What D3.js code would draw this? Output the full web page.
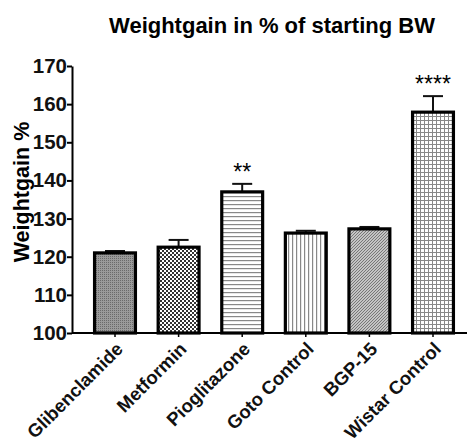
<!DOCTYPE html>
<html>
<head>
<meta charset="utf-8">
<script src="https://cdn.jsdelivr.net/npm/d3@7"></script>
<style>
  body { margin: 0; background: #fff; }
  svg { display: block; font-family: "Liberation Sans", Arial, sans-serif; font-weight: bold; }
</style>
</head>
<body>
<svg id="chart" width="467" height="443"></svg>
<script>
const groups = ['Glibenclamide', 'Metformin', 'Pioglitazone', 'Goto Control', 'BGP-15', 'Wistar Control']
const means = [121.0, 122.5, 137.0, 126.2, 127.3, 157.9]
const errUp = [121.5, 124.4, 139.1, 126.8, 127.8, 162.1]
const stars = ['', '', '**', '', '', '****']
const patterns = ['dots', 'checker', 'hlines', 'vlines', 'diag', 'grid']
const yTicks = [100, 110, 120, 130, 140, 150, 160, 170]

const svg = d3.select('#chart')
const defs = svg.append('defs')

// fill patterns, one per bar
const addPattern = (id, size, draw) => {
  const p = defs.append('pattern')
    .attr('id', id)
    .attr('patternUnits', 'userSpaceOnUse')
    .attr('width', size)
    .attr('height', size)
  draw(p)
}
addPattern('dots', 2, p => {
  p.append('rect').attr('width', 2).attr('height', 2).attr('fill', '#9a9a9a')
  p.append('rect').attr('width', 1).attr('height', 1).attr('fill', '#6a6a6a')
})
addPattern('checker', 4, p => {
  p.append('rect').attr('width', 4).attr('height', 4).attr('fill', '#fff')
  p.append('rect').attr('width', 2).attr('height', 2).attr('fill', '#333')
  p.append('rect').attr('x', 2).attr('y', 2).attr('width', 2).attr('height', 2).attr('fill', '#333')
})
addPattern('hlines', 4, p => {
  p.append('rect').attr('width', 4).attr('height', 4).attr('fill', '#fff')
  p.append('rect').attr('width', 4).attr('height', 1.2).attr('fill', '#888')
})
addPattern('vlines', 4, p => {
  p.append('rect').attr('width', 4).attr('height', 4).attr('fill', '#fff')
  p.append('rect').attr('width', 1.2).attr('height', 4).attr('fill', '#888')
})
addPattern('diag', 3, p => {
  p.append('rect').attr('width', 3).attr('height', 3).attr('fill', '#c4c4c4')
  p.append('path').attr('d', 'M0,3 L3,0 M-1,1 L1,-1 M2,4 L4,2').attr('stroke', '#777').attr('stroke-width', 1)
})
addPattern('grid', 4, p => {
  p.append('rect').attr('width', 4).attr('height', 4).attr('fill', '#fff')
  p.append('rect').attr('width', 4).attr('height', 1).attr('fill', '#888')
  p.append('rect').attr('width', 1).attr('height', 4).attr('fill', '#888')
})

const axisX = 72
const baseY = 333

const yScale = d3.scaleLinear()
  .domain([100, 170])
  .range([baseY, 66])

const xScale = d3.scaleBand()
  .domain(groups)
  .range([83.2, 464.8])
  .paddingInner(0.31)
  .paddingOuter(0.155)

const data = groups.map((g, i) => ({ group: g, mean: means[i], err: errUp[i], star: stars[i], pat: patterns[i] }))

// title
svg.append('text')
  .attr('x', 272)
  .attr('y', 33)
  .attr('text-anchor', 'middle')
  .attr('font-size', 22)
  .text('Weightgain in % of starting BW')

// y label
svg.append('text')
  .attr('transform', `translate(29, 192) rotate(-90)`)
  .attr('text-anchor', 'middle')
  .attr('font-size', 21.5)
  .text('Weightgain %')

// error bars (behind bars)
const errG = svg.append('g')
errG.selectAll('line.stem')
  .data(data)
  .enter()
  .append('line')
  .attr('x1', d => xScale(d.group) + xScale.bandwidth() / 2)
  .attr('x2', d => xScale(d.group) + xScale.bandwidth() / 2)
  .attr('y1', d => yScale(d.mean))
  .attr('y2', d => yScale(d.err))
  .attr('stroke', '#111')
  .attr('stroke-width', 2)
errG.selectAll('line.cap')
  .data(data)
  .enter()
  .append('line')
  .attr('x1', d => xScale(d.group) + xScale.bandwidth() / 2 - 10)
  .attr('x2', d => xScale(d.group) + xScale.bandwidth() / 2 + 10)
  .attr('y1', d => yScale(d.err))
  .attr('y2', d => yScale(d.err))
  .attr('stroke', '#111')
  .attr('stroke-width', 2)

// bars
svg.append('g')
  .selectAll('rect')
  .data(data)
  .enter()
  .append('rect')
  .attr('x', d => xScale(d.group) + 1.5)
  .attr('y', d => yScale(d.mean))
  .attr('width', xScale.bandwidth() - 3)
  .attr('height', d => baseY - yScale(d.mean))
  .attr('fill', d => `url(#${d.pat})`)
  .attr('stroke', '#000')
  .attr('stroke-width', 3.2)

// significance stars
svg.append('g')
  .selectAll('text')
  .data(data.filter(d => d.star))
  .enter()
  .append('text')
  .attr('x', d => xScale(d.group) + xScale.bandwidth() / 2)
  .attr('y', d => yScale(d.err) - 4)
  .attr('text-anchor', 'middle')
  .attr('font-size', 23)
  .attr('font-weight', 'normal')
  .text(d => d.star)

// y axis
const leftAxis = d3.axisLeft(yScale)
  .tickValues(yTicks)
  .tickSize(5)
  .tickSizeOuter(0)
const yAxisG = svg.append('g')
  .attr('transform', `translate(${axisX}, 0)`)
  .call(leftAxis)
yAxisG.select('.domain').attr('stroke-width', 2)
yAxisG.selectAll('.tick line').attr('stroke-width', 2)
yAxisG.selectAll('.tick text')
  .attr('font-size', 20.5)
  .attr('font-family', '"Liberation Sans", Arial, sans-serif')
  .attr('font-weight', 'bold')
  .attr('fill', '#111')
  .attr('x', -5)

// x axis
const bottomAxis = d3.axisBottom(xScale)
  .tickSize(4)
  .tickSizeOuter(0)
const xAxisG = svg.append('g')
  .attr('transform', `translate(0, ${baseY})`)
  .call(bottomAxis)
xAxisG.select('.domain')
  .attr('d', `M${axisX},0H467`)
  .attr('stroke-width', 2)
xAxisG.selectAll('.tick line').attr('stroke-width', 1.5)
xAxisG.selectAll('.tick text')
  .attr('font-size', 18.5)
  .attr('font-family', '"Liberation Sans", Arial, sans-serif')
  .attr('font-weight', 'bold')
  .attr('fill', '#111')
  .attr('text-anchor', 'end')
  .attr('transform', 'translate(0, 8) rotate(-45)')
  .attr('dy', '0.7em')
  .attr('y', 0)
</script>
</body>
</html>
